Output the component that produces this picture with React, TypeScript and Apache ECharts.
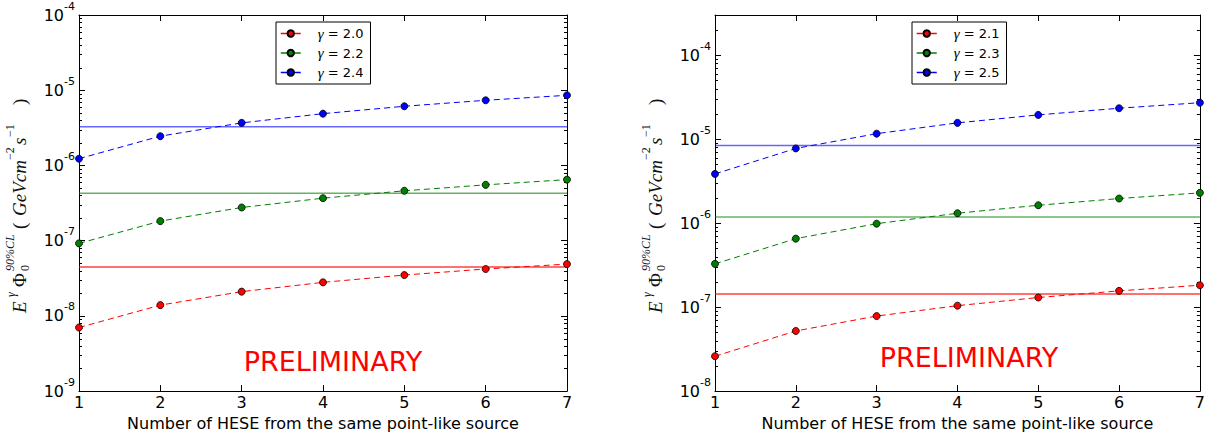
import React, { useEffect, useRef } from 'react';
import * as echarts from 'echarts';

// ---------- data ----------
const xValues = [1, 2, 3, 4, 5, 6, 7];
const xRange = [1, 7];

const leftGammas = ['2.0', '2.2', '2.4'];
const leftRed = [7.0e-9, 1.39e-8, 2.1e-8, 2.79e-8, 3.49e-8, 4.2e-8, 4.88e-8];
const leftGreen = [9.2e-8, 1.82e-7, 2.76e-7, 3.67e-7, 4.6e-7, 5.52e-7, 6.48e-7];
const leftBlue = [1.23e-6, 2.45e-6, 3.68e-6, 4.88e-6, 6.12e-6, 7.35e-6, 8.56e-6];
const leftLimits = [4.46e-8, 4.27e-7, 3.26e-6];
const leftYRange = [1e-9, 1e-4];

const rightGammas = ['2.1', '2.3', '2.5'];
const rightRed = [2.6e-8, 5.2e-8, 7.82e-8, 1.04e-7, 1.3e-7, 1.56e-7, 1.82e-7];
const rightGreen = [3.27e-7, 6.53e-7, 9.84e-7, 1.31e-6, 1.63e-6, 1.96e-6, 2.29e-6];
const rightBlue = [3.85e-6, 7.74e-6, 1.16e-5, 1.56e-5, 1.94e-5, 2.33e-5, 2.71e-5];
const rightLimits = [1.43e-7, 1.18e-6, 8.4e-6];
const rightYRange = [1e-8, 3e-4];

const minorMultipliers = [2, 3, 4, 5, 6, 7, 8, 9];
const xAxisTitle = 'Number of HESE from the same point-like source';
const watermark = 'PRELIMINARY';

// ---------- styling ----------
const SANS = 'DejaVu Sans';
const MATH = 'Liberation Serif';
const lineColors = ['#ff0000', '#008000', '#0000ff'];
const limitColors = ['rgba(255,0,0,0.75)', 'rgba(0,128,0,0.6)', 'rgba(0,0,255,0.6)'];

const gridsPos = [
  { left: 79, top: 15, width: 488, height: 378 },
  { left: 715, top: 15, width: 487, height: 377 },
];

function minorTickValues(range: number[]) {
  const out: number[] = [];
  const e0 = Math.floor(Math.log10(range[0]));
  const e1 = Math.ceil(Math.log10(range[1]));
  for (let e = e0; e <= e1; e++) {
    for (const m of minorMultipliers) {
      const v = m * Math.pow(10, e);
      if (v > range[0] * 1.0001 && v < range[1] * 0.9999) out.push(v);
    }
  }
  return out;
}

function yLabelFormatter(v: number) {
  const e = Math.log10(v);
  const r = Math.round(e);
  if (Math.abs(e - r) > 1e-6) return '';
  return `{b|10}{e|${r}}`;
}

function legendName(g: string) {
  return `γ = ${g}`;
}

function makeYLabel(x: number, y: number) {
  const mk = (text: string, px: number, py: number, size: number, italic: boolean) => ({
    type: 'text',
    x: px,
    y: py,
    style: {
      text, fontFamily: MATH, fontStyle: italic ? 'italic' : 'normal', fontSize: size,
      fill: '#111', align: 'left', verticalAlign: 'middle',
    },
  });
  return {
    type: 'group',
    x,
    y,
    rotation: Math.PI / 2,
    silent: true,
    children: [
      mk('E', 0, 0, 19, true),
      mk('γ', 16, -8, 12, true),
      mk('Φ', 26, 0, 19, false),
      mk('0', 42, 6, 12, false),
      mk('90%CL', 42, -9, 12, true),
      mk('(', 84, 0, 19, false),
      mk('GeVcm', 97, 0, 19, true),
      mk('−2', 153, -9, 12, false),
      mk('s', 168, 0, 19, true),
      mk('−1', 176, -9, 12, false),
      mk(')', 208, 0, 19, false),
    ],
  };
}

export default function App() {
  const ref = useRef<HTMLDivElement>(null);

  useEffect(() => {
    if (!ref.current) return;
    const chart = echarts.init(ref.current, undefined, { renderer: 'svg' });

    const panels = [
      { gammas: leftGammas, data: [leftRed, leftGreen, leftBlue], limits: leftLimits, range: leftYRange },
      { gammas: rightGammas, data: [rightRed, rightGreen, rightBlue], limits: rightLimits, range: rightYRange },
    ];

    const grid = gridsPos.map((g) => ({ ...g, containLabel: false }));

    const axisLine = { show: true, lineStyle: { color: '#000', width: 1 } };
    const tick = { show: true, inside: true, length: 6, lineStyle: { color: '#000', width: 1 } };

    const xAxis: any[] = [];
    const yAxis: any[] = [];
    const series: any[] = [];

    panels.forEach((p, gi) => {
      xAxis.push({
        type: 'value', gridIndex: gi, min: xRange[0], max: xRange[1], interval: 1, position: 'bottom',
        axisLine, axisTick: tick, splitLine: { show: false },
        axisLabel: { fontSize: 16, color: '#000', fontFamily: SANS, margin: 3 },
        name: xAxisTitle, nameLocation: 'middle', nameGap: 20,
        nameTextStyle: { fontSize: 16, color: '#000', fontFamily: SANS },
      });
      xAxis.push({
        type: 'value', gridIndex: gi, min: xRange[0], max: xRange[1], interval: 1, position: 'top',
        axisLine, axisTick: tick, splitLine: { show: false }, axisLabel: { show: false },
      });
      yAxis.push({
        type: 'log', logBase: 10, gridIndex: gi, min: p.range[0], max: p.range[1], position: 'left',
        axisLine, axisTick: tick, splitLine: { show: false },
        axisLabel: {
          formatter: yLabelFormatter, margin: 4, color: '#000',
          showMaxLabel: true, showMinLabel: true,
          rich: {
            b: { fontSize: 16, lineHeight: 29, fontFamily: SANS, color: '#000', verticalAlign: 'middle' },
            e: { fontSize: 11, lineHeight: 11, fontFamily: SANS, color: '#000', verticalAlign: 'top' },
          },
        },
      });
      yAxis.push({
        type: 'log', logBase: 10, gridIndex: gi, min: p.range[0], max: p.range[1], position: 'right',
        axisLine, axisTick: tick, splitLine: { show: false }, axisLabel: { show: false },
      });

      p.data.forEach((vals, si) => {
        // horizontal limit line
        series.push({
          name: 'limit ' + legendName(p.gammas[si]),
          type: 'line',
          xAxisIndex: gi * 2,
          yAxisIndex: gi * 2,
          data: [[xRange[0], p.limits[si]], [xRange[1], p.limits[si]]],
          symbol: 'none',
          silent: true,
          lineStyle: { color: limitColors[si], width: 1.5, type: 'solid' },
          z: 2,
        });
        series.push({
          name: legendName(p.gammas[si]),
          type: 'line',
          xAxisIndex: gi * 2,
          yAxisIndex: gi * 2,
          data: xValues.map((x, i) => [x, vals[i]]),
          symbol: 'circle',
          symbolSize: 7,
          lineStyle: { color: lineColors[si], width: 1, type: [6, 4] },
          itemStyle: { color: lineColors[si], borderColor: '#000', borderWidth: 0.8 },
          clip: false,
          z: 3,
        });
      });

      series.push({
        name: 'minor-ticks-' + gi,
        type: 'custom',
        xAxisIndex: gi * 2,
        yAxisIndex: gi * 2,
        silent: true,
        clip: false,
        data: minorTickValues(p.range).map((v) => [xRange[0], v]),
        renderItem: (params: any, api: any) => {
          const pt = api.coord([xRange[0], api.value(1)]);
          const cs = params.coordSys;
          const y = Math.round(pt[1]) + 0.5;
          return {
            type: 'group',
            children: [
              { type: 'line', shape: { x1: cs.x, y1: y, x2: cs.x + 3, y2: y }, style: { stroke: '#000', lineWidth: 1 } },
              { type: 'line', shape: { x1: cs.x + cs.width - 3, y1: y, x2: cs.x + cs.width, y2: y }, style: { stroke: '#000', lineWidth: 1 } },
            ],
          };
        },
        z: 2,
      });
    });

    const legendCommon = {
      orient: 'vertical',
      top: 22,
      padding: [4, 7, 4, 4],
      itemWidth: 20,
      itemHeight: 8,
      itemGap: 4.5,
      backgroundColor: '#fff',
      borderColor: '#000',
      borderWidth: 1,
      borderRadius: 0,
      lineStyle: { type: 'solid', width: 1.5 },
      formatter: (name: string) => `{g|γ}{t| = ${name.split('= ')[1]}}`,
      textStyle: {
        lineHeight: 15,
        rich: {
          g: { fontFamily: MATH, fontStyle: 'italic', fontSize: 15, color: '#000', padding: [0, 0, 0, 12] },
          t: { fontFamily: SANS, fontSize: 13, color: '#000' },
        },
      },
    };

    const option: any = {
      animation: false,
      backgroundColor: '#fff',
      grid,
      xAxis,
      yAxis,
      series,
      legend: [
        { ...legendCommon, left: 276, data: leftGammas.map(legendName) },
        { ...legendCommon, left: 912, data: rightGammas.map(legendName) },
      ],
      graphic: [
        makeYLabel(19, 313),
        makeYLabel(655, 313),
        {
          type: 'text', x: 333, y: 361, silent: true,
          style: { text: watermark, fontFamily: SANS, fontSize: 27, fill: '#ff0000', align: 'center', verticalAlign: 'middle' },
        },
        {
          type: 'text', x: 969, y: 357, silent: true,
          style: { text: watermark, fontFamily: SANS, fontSize: 27, fill: '#ff0000', align: 'center', verticalAlign: 'middle' },
        },
      ],
    };

    chart.setOption(option);
    return () => chart.dispose();
  }, []);

  return <div ref={ref} style={{ position: 'absolute', left: 0, top: 0, width: 1208, height: 436 }} />;
}
